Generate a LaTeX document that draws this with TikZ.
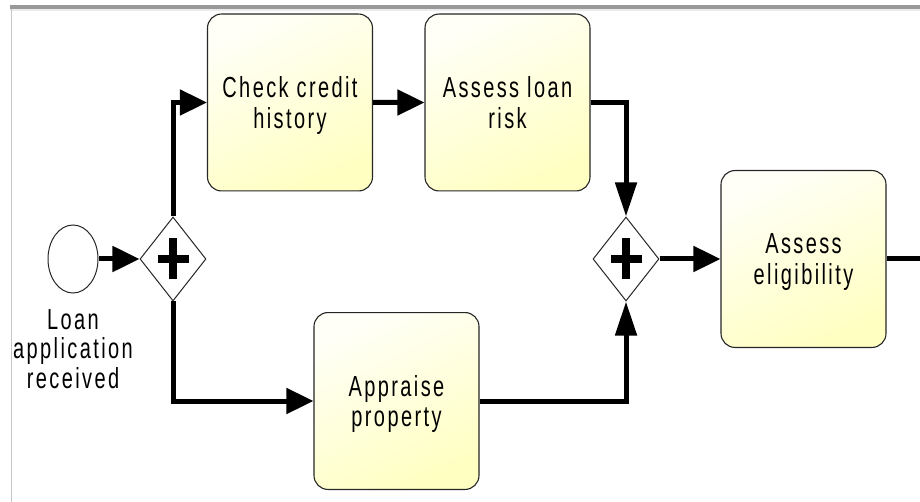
\documentclass[tikz,border=0pt]{standalone}
\usepackage{fontspec}
\setmainfont{Liberation Sans}[LetterSpace=12]
\usetikzlibrary{shapes.geometric,arrows.meta}
\tikzstyle{task}=[draw=black!85,line width=1.1pt,rounded corners=14pt,top color=yellow!3,bottom color=yellow!24,shading angle=25,minimum width=165pt,minimum height=122pt,inner sep=0pt,align=center,text depth=0pt,yscale=1.45,font=\fontsize{20}{21}\selectfont]
\tikzstyle{evtext}=[inner sep=0pt,align=center,text depth=0pt,yscale=1.45,font=\fontsize{20}{20.5}\selectfont]
\tikzstyle{event}=[ellipse,draw=black!85,line width=1pt,fill=white,minimum width=50pt,minimum height=68pt,inner sep=0pt]
\tikzstyle{gateway}=[diamond,draw=black!85,line width=1pt,fill=white,minimum width=66pt,minimum height=84pt,inner sep=0pt,
  path picture={\draw[black,line width=8pt] ([xshift=-15.5pt]path picture bounding box.center) -- ([xshift=15.5pt]path picture bounding box.center)
    ([yshift=-20.5pt]path picture bounding box.center) -- ([yshift=20.5pt]path picture bounding box.center);}]
\tikzstyle{flow}=[draw,line width=5pt,-{Triangle[length=27pt,width=25pt]}]
\tikzstyle{flowv}=[draw,line width=5pt,-{Triangle[length=34pt,width=21pt]}]

\begin{document}
\begin{tikzpicture}[x=1pt,y=-1pt]
    \useasboundingbox (0,0) rectangle (920,502);
    % window frame
    \fill[black!40] (10,5) rectangle (920,9);
    \fill[black!8] (10,9) rectangle (920,11);
    \draw[black!22,line width=1pt] (11,9) -- (11,502);

    \node[event] (start) at (73,259) {};
    \node[evtext] (startlbl) at (73,349) {Loan\\application\\received};
    \node[gateway] (g1) at (173,259) {};
    \node[task] (check) at (290,102.5) {Check credit\\history};
    \node[task] (assess) at (507.5,102.5) {Assess loan\\risk};
    \node[task] (appraise) at (396.5,401) {Appraise\\property};
    \node[gateway] (g2) at (626,259) {};
    \node[task] (elig) at (803.5,259) {Assess\\eligibility};
    \coordinate (exit) at (920,259);

    \draw[flow] (start) -- (g1);
    \draw[flow] (g1.north) |- (check.west);
    \draw[flow] (g1.south) |- (appraise.west);
    \draw[flow] (check) -- (assess);
    \draw[flowv] (assess.east) -| (g2.north);
    \draw[flowv] (appraise.east) -| (g2.south);
    \draw[flow] (g2) -- (elig);
    \draw[line width=5pt] (elig.east) -- (exit);
\end{tikzpicture}
\end{document}
